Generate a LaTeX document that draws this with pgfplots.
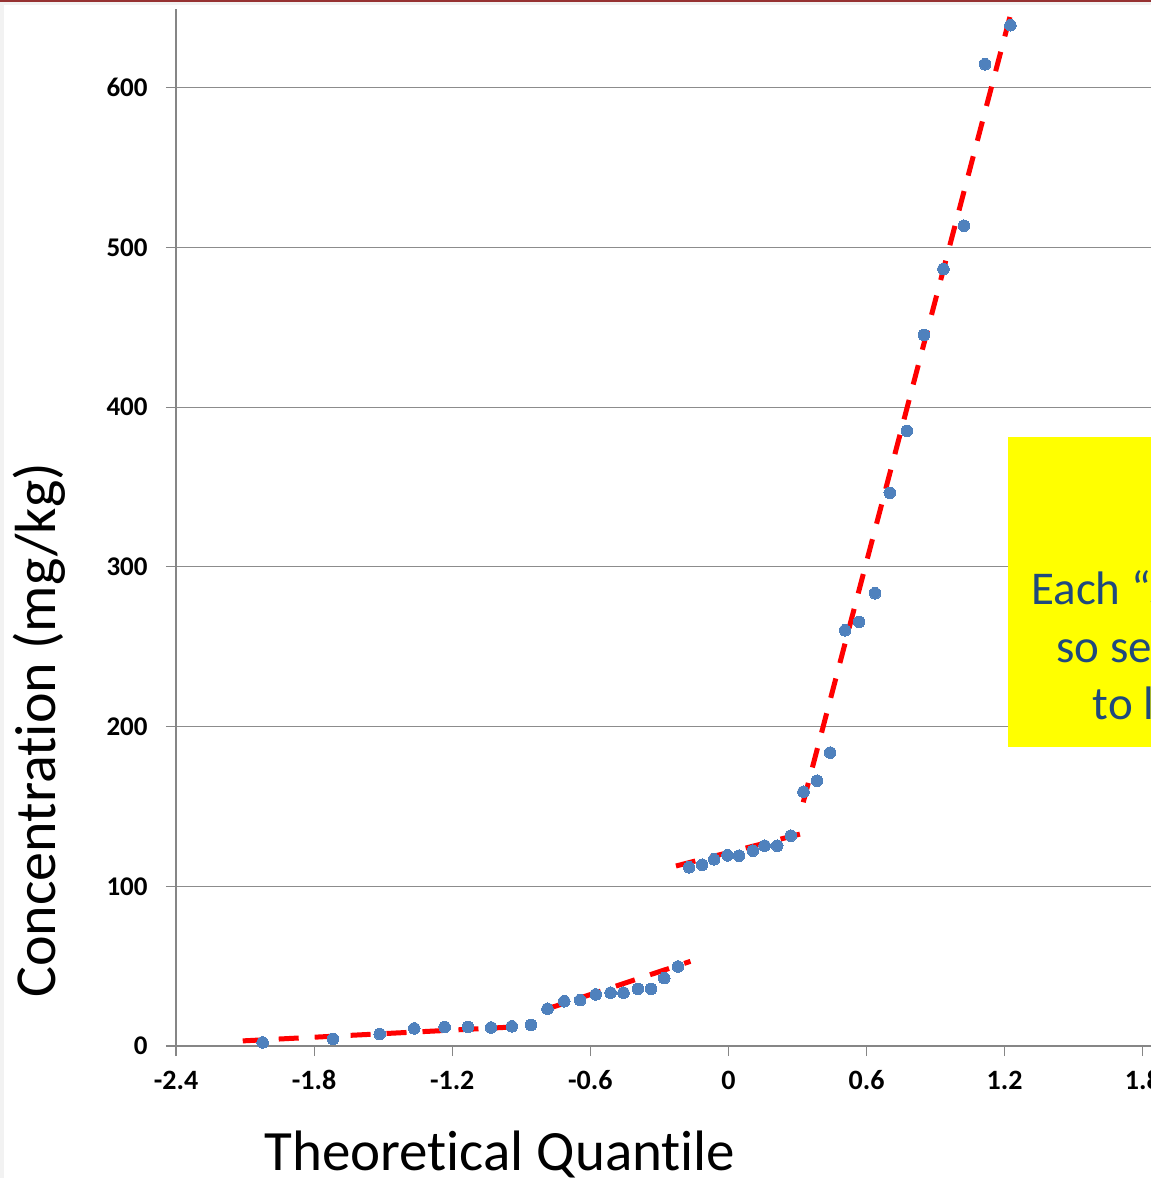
\documentclass[border=0pt]{standalone}
\usepackage{pgfplots}
\pgfplotsset{compat=1.18}
\usepackage{fontspec}
\setmainfont[Ligatures=NoCommon]{Carlito}
\definecolor{axisgray}{RGB}{134,134,134}
\definecolor{gridgray}{RGB}{140,140,140}
\definecolor{ptblue}{RGB}{79,129,189}
\definecolor{txtblue}{RGB}{31,73,125}
\definecolor{topred}{RGB}{150,50,50}
\definecolor{edgegray}{RGB}{242,242,242}
\definecolor{boxyellow}{RGB}{255,255,0}
\begin{document}
\begin{tikzpicture}
\clip (-88pt,-66pt) rectangle (487.5pt,523pt);
\fill[white] (-88pt,-66pt) rectangle (487.5pt,523pt);
\fill[edgegray] (-88pt,-66pt) rectangle (-86pt,523pt);
\fill[edgegray] (-88pt,520.5pt) rectangle (487.5pt,523pt);
\fill[topred] (-88pt,522pt) rectangle (487.5pt,523pt);
\begin{axis}[
  at={(0,0)}, anchor=south west,
  scale only axis, width=506.4pt, height=518.5pt,
  xmin=-2.4, xmax=2.0, ymin=0, ymax=649.3,
  axis lines*=left,
  axis line style={-, draw=axisgray, line width=0.75pt},
  xtick={-2.4,-1.8,-1.2,-0.6,0,0.6,1.2,1.8},
  xticklabels={-2.4,-1.8,-1.2,-0.6,0,0.6,1.2,1.8},
  ytick={0,100,200,300,400,500,600},
  yticklabels={0,100,200,300,400,500,600},
  ymajorgrids, grid style={gridgray, line width=0.5pt},
  tick align=outside, major tick length=5pt,
  tick style={axisgray, line width=0.6pt},
  xticklabel style={font=\fontsize{14}{16}\selectfont\bfseries, inner sep=0pt, anchor=center},
  yticklabel style={font=\fontsize{13.5}{16}\selectfont\bfseries, inner sep=0pt, anchor=east},
  xticklabel shift=12pt,
  yticklabel shift=9pt,
]
\addplot[only marks, color=ptblue, mark=*, mark size=2.9pt, mark options={draw=ptblue, fill=ptblue, line width=0pt}] coordinates {
(-2.024,2.2) (-1.718,4.3) (-1.515,7.5) (-1.365,11.0) (-1.233,11.9) (-1.131,11.9) (-1.031,11.6) (-0.941,12.3) (-0.858,13.2) (-0.786,23.3) (-0.713,28.0) (-0.644,28.7) (-0.576,32.3) (-0.512,33.4) (-0.456,33.4) (-0.393,35.8) (-0.336,35.8) (-0.279,42.5) (-0.219,49.8)
(-0.171,111.9) (-0.114,113.5) (-0.062,116.9) (-0.004,119.4) (0.046,119.2) (0.106,122.3) (0.157,125.4) (0.212,125.4) (0.271,131.7) (0.326,159.2) (0.385,166.1) (0.442,183.7) (0.507,260.3) (0.568,265.5) (0.637,283.5) (0.701,346.3) (0.775,385.1) (0.850,445.2) (0.934,486.5) (1.023,513.6) (1.115,614.7) (1.225,639.1)
};
\addplot[red, line width=2.5pt, dash pattern=on 10pt off 8pt] coordinates {(-2.11,3.2) (-0.87,12.4)};
\addplot[red, line width=2.5pt, dash pattern=on 10pt off 8pt] coordinates {(-0.786,23.3) (-0.165,53.0)};
\addplot[red, line width=2.5pt, dash pattern=on 10pt off 8pt] coordinates {(-0.228,112.7) (0.325,133.2)};
\addplot[red, line width=2.5pt, dash pattern=on 10pt off 8pt] coordinates {(0.325,152.6) (1.232,649.3)};
\end{axis}
\node[anchor=base west, inner sep=0pt, font=\fontsize{28.5}{34}\selectfont] at (44pt,-62.5pt) {Theoretical Quantile};
\node[anchor=base west, inner sep=0pt, rotate=90, font=\fontsize{29}{35}\selectfont] at (-60pt,24pt) {Concentration (mg/kg)};
\fill[boxyellow] (416pt,149.35pt) rectangle (600pt,304.65pt);
\begin{scope}[font=\fontsize{23.5}{28}\selectfont, text=txtblue]
\node[anchor=base west, inner sep=0pt] at (427.5pt,220.5pt) {Each “step” is a different};
\node[anchor=base west, inner sep=0pt] at (440pt,191.75pt) {so separate the data};
\node[anchor=base west, inner sep=0pt] at (458.25pt,163pt) {to look at each};
\end{scope}
\end{tikzpicture}
\end{document}
